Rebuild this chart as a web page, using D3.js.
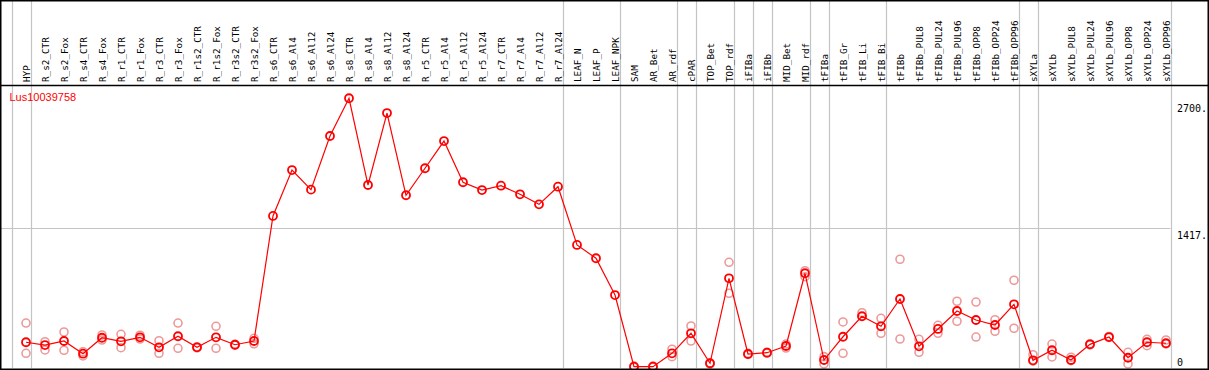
<!DOCTYPE html>
<html>
<head>
<meta charset="utf-8">
<script src="https://cdn.jsdelivr.net/npm/d3@7/dist/d3.min.js"></script>
<style>
  body { margin: 0; background: #fff; }
  svg { display: block; }
</style>
</head>
<body>
<div id="chart-area"></div>
<script>
// gene expression profile, one column per sample
var gene = "Lus10039758";

var samples = ["HYP","R_s2_CTR","R_s2_Fox","R_s4_CTR","R_s4_Fox","R_r1_CTR","R_r1_Fox","R_r3_CTR","R_r3_Fox",
    "R_r1s2_CTR","R_r1s2_Fox","R_r3s2_CTR","R_r3s2_Fox","R_s6_CTR","R_s6_Al4","R_s6_Al12","R_s6_Al24",
    "R_s8_CTR","R_s8_Al4","R_s8_Al12","R_s8_Al24","R_r5_CTR","R_r5_Al4","R_r5_Al12","R_r5_Al24",
    "R_r7_CTR","R_r7_Al4","R_r7_Al12","R_r7_Al24","LEAF_N","LEAF_P","LEAF_NPK","SAM","AR_Bet","AR_rdf",
    "cPAR","TOP_Bet","TOP_rdf","iFIBa","iFIBb","MID_Bet","MID_rdf","tFIBa","tFIB_Gr","tFIB_Li","tFIB_Bi",
    "tFIBb","tFIBb_PUL8","tFIBb_PUL24","tFIBb_PUL96","tFIBb_OPP8","tFIBb_OPP24","tFIBb_OPP96",
    "sXYLa","sXYLb","sXYLb_PUL8","sXYLb_PUL24","sXYLb_PUL96","sXYLb_OPP8","sXYLb_OPP24","sXYLb_OPP96"];

// mean expression
var means = [261,233,274,145,307,271,311,210,322,210,311,236,274,1542,2008,1809,2353,2736,1856,2586,1752,
    2026,2302,1884,1805,1849,1762,1660,1839,1248,1113,740,13,13,149,352,48,910,142,155,223,961,81,317,524,
    423,700,220,396,578,487,436,646,78,180,81,240,314,104,261,251];

// replicates (null = none shown)
var rep1 = [456,267,365,165,335,342,332,277,456,215,423,240,301,null,null,null,null,null,null,null,null,
    null,null,null,null,null,null,null,null,null,null,null,20,20,190,426,51,1072,148,160,243,987,115,467,561,
    504,1103,291,433,677,669,490,890,135,243,109,245,320,159,291,284];
var rep2 = [149,183,180,122,284,206,294,149,200,205,200,232,246,null,null,null,null,null,null,null,null,
    null,null,null,null,null,null,null,null,null,null,null,8,8,115,274,40,758,138,150,203,926,41,149,530,
    352,294,159,352,474,314,372,403,70,112,75,235,310,41,226,245];

// separators drawn after these samples
var separators = ["HYP","R_r7_Al24","LEAF_NPK","AR_rdf","cPAR","TOP_rdf","iFIBa","iFIBb","MID_rdf",
    "tFIBa","tFIB_Bi","tFIBb_OPP96","sXYLa","sXYLb_OPP96"];

var tickValues = [0, 1417, 2700];
var tickLabels = ["0", "1417.", "2700."];

var width = 1209, height = 370;
var headerY = 85, bottomY = 368;

var svg = d3.select("#chart-area")
    .append("svg")
        .attr("width", width)
        .attr("height", height);

var x = d3.scalePoint()
    .domain(samples)
    .range([26, 1166]);
var step = x.step();

var y = d3.scaleLinear()
    .domain([0, 2835])
    .range([bottomY, bottomY - 2835 * 0.09859]);

// vertical separators
var sepX = [x(samples[0]) - step + 4.5].concat(separators.map(function(s){ return x(s) + 4.5; }));
svg.selectAll("line.sep")
    .data(sepX)
    .enter().append("line")
        .attr("class", "sep")
        .attr("x1", function(d){ return Math.round(d) + 0.5; })
        .attr("x2", function(d){ return Math.round(d) + 0.5; })
        .attr("y1", 0)
        .attr("y2", bottomY)
        .attr("stroke", "#c4c4c4")
        .attr("stroke-width", 1.2);

// mid grid line
svg.append("line")
    .attr("x1", 1)
    .attr("x2", x(samples[samples.length - 1]) + 4.5)
    .attr("y1", Math.round(y(1417)) + 0.5)
    .attr("y2", Math.round(y(1417)) + 0.5)
    .attr("stroke", "#c4c4c4")
    .attr("stroke-width", 1.2);

// sample labels
svg.selectAll("text.sample")
    .data(samples)
    .enter().append("text")
        .attr("class", "sample")
        .attr("transform", function(d){ return "translate(" + (x(d) + 3.5) + "," + 82 + ") rotate(-90)"; })
        .attr("font-family", "DejaVu Sans Mono")
        .attr("font-size", "9.3px")
        .attr("fill", "#000")
        .text(function(d){ return d; });

// y labels
svg.selectAll("text.tick")
    .data(tickValues)
    .enter().append("text")
        .attr("class", "tick")
        .attr("x", 1177)
        .attr("y", function(d){ return Math.min(y(d) + 10.5, 366); })
        .attr("font-family", "DejaVu Sans Mono")
        .attr("font-size", "10px")
        .attr("fill", "#000")
        .text(function(d, i){ return tickLabels[i]; });

svg.append("text")
    .attr("x", 9.5)
    .attr("y", 101)
    .attr("font-family", "Liberation Sans, Arial")
    .attr("font-size", "11px")
    .attr("fill", "#ff0000")
    .text(gene);

var plot = svg.append("g");

// replicate points
[rep1, rep2].forEach(function(rep){
    plot.selectAll(null)
        .data(samples.map(function(s, i){ return { s: s, v: rep[i] }; }).filter(function(d){ return d.v != null; }))
        .enter().append("circle")
            .attr("cx", function(d){ return x(d.s); })
            .attr("cy", function(d){ return y(d.v); })
            .attr("r", 4)
            .attr("fill", "none")
            .attr("stroke", "#ee9999")
            .attr("stroke-width", 1.6);
});

var line = d3.line()
    .x(function(d, i){ return x(samples[i]); })
    .y(function(d){ return y(d); });

plot.append("path")
    .datum(means)
    .attr("d", line)
    .attr("fill", "none")
    .attr("stroke", "#ff0000")
    .attr("stroke-width", 1.2);

plot.selectAll("circle.mean")
    .data(means)
    .enter().append("circle")
        .attr("class", "mean")
        .attr("cx", function(d, i){ return x(samples[i]); })
        .attr("cy", function(d){ return y(d); })
        .attr("r", 4)
        .attr("fill", "none")
        .attr("stroke", "#ff0000")
        .attr("stroke-width", 1.8);

// frame and header rule
svg.append("line")
    .attr("x1", 0).attr("x2", width)
    .attr("y1", headerY + 0.5).attr("y2", headerY + 0.5)
    .attr("stroke", "#000")
    .attr("stroke-width", 1.5);
svg.append("rect")
    .attr("x", 0.75).attr("y", 0.75)
    .attr("width", width - 1.5).attr("height", bottomY + 0.5)
    .attr("fill", "none")
    .attr("stroke", "#000")
    .attr("stroke-width", 1.5);
</script>
</body>
</html>
